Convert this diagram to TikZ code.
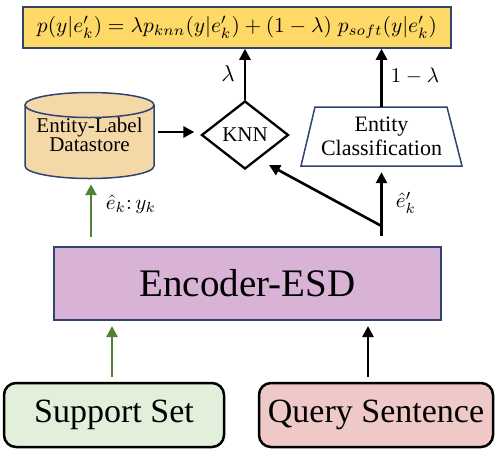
\documentclass[tikz,border=0pt]{standalone}
\usepackage{fontspec}
\setmainfont{Liberation Serif}
\usepackage{graphicx}
\usetikzlibrary{arrows.meta,shapes.geometric,calc}
\definecolor{fyellow}{HTML}{FFD966}
\definecolor{navy}{HTML}{2F4470}
\definecolor{dsfill}{HTML}{F5D8A8}
\definecolor{encfill}{HTML}{D9B3D6}
\definecolor{supfill}{HTML}{E2EFDA}
\definecolor{qfill}{HTML}{EFC8C8}
\definecolor{agreen}{HTML}{548235}
\tikzset{
  arr/.style={line width=2.6pt,-{Triangle[length=11pt,width=11pt]}},
  garr/.style={arr,draw=agreen,-{Triangle[length=11pt,width=11pt,fill=agreen]}},
  inbox/.style={draw=black,line width=2.5pt,rounded corners=12pt,minimum height=64pt,inner sep=0pt,font=\fontsize{34}{38}\selectfont},
  lbl/.style={inner sep=0pt}
}
\begin{document}
\begin{tikzpicture}[x=1pt,y=-1pt]
\useasboundingbox (0,0) rectangle (498,451);
% formula
\node[draw=navy,line width=1.5pt,fill=fyellow,minimum width=428pt,minimum height=41pt,inner sep=0pt] (formula) at (237,27.5)
  {\resizebox{400pt}{!}{$p(y|e'_k) = \lambda p_{knn}(y|e'_k) + (1-\lambda)\; p_{soft}(y|e'_k)$}};
% datastore cylinder
\path[fill=dsfill,draw=navy,line width=1.5pt] (25,105) -- (25,166) arc[start angle=180,end angle=0,x radius=64.5,y radius=12.5] -- (154,105);
\draw[fill=dsfill,draw=navy,line width=1.5pt] (89.5,105) ellipse[x radius=64.5,y radius=12.5];
\node[minimum width=129pt,minimum height=86pt,inner sep=0pt,align=center,font=\fontsize{21}{18}\selectfont] (ds) at (89.5,135)
  {\raisebox{-4pt}{Entity-Label}\\Datastore};
% knn
\node[diamond,draw=black,line width=2.3pt,fill=white,minimum width=87pt,minimum height=68pt,inner sep=0pt,font=\fontsize{21}{24}\selectfont] (knn) at (245,135) {KNN};
% entity classification
\draw[draw=navy,line width=1.5pt,fill=white] (301,166) -- (315,107) -- (447,107) -- (462,166) -- cycle;
\node[minimum width=161pt,minimum height=59pt,inner sep=0pt,align=center,font=\fontsize{22}{24}\selectfont] (trap) at (381.5,136.5)
  {Entity\\Classification};
% encoder
\node[draw=navy,line width=2pt,fill=encfill,minimum width=387pt,minimum height=73pt,inner sep=0pt,font=\fontsize{39}{44}\selectfont] (enc) at (247.5,283.5) {Encoder-ESD};
% inputs
\node[inbox,fill=supfill,minimum width=220pt] (sup) at (114,415) {Support Set};
\node[inbox,fill=qfill,minimum width=234pt] (qry) at (376,415) {Query Sentence};
% arrows
\draw[garr,shorten <=5pt,shorten >=5pt] ([xshift=-2pt]sup.north) -- ([xshift=-2pt]sup.north |- enc.south);
\draw[arr,shorten <=5pt,shorten >=5pt] ([xshift=-8pt]qry.north) -- ([xshift=-8pt]qry.north |- enc.south);
\draw[garr,shorten <=9pt,shorten >=6pt] ([xshift=1.5pt]ds.south |- enc.north) -- ([xshift=1.5pt]ds.south);
\draw[arr,shorten <=4pt,shorten >=6pt] ([yshift=3pt]ds.east) -- ([yshift=3pt]ds.east -| knn.west);
\draw[arr] (knn.north) -- (knn.north |- formula.south);
\draw[arr] (trap.north) -- (trap.north |- formula.south);
\coordinate (base) at (trap.south |- enc.north);
\coordinate (split) at ([yshift=20pt]base);
\coordinate (knntip) at (269,165);
\draw[arr,shorten <=10pt,shorten >=6pt] (base) -- (trap.south);
\draw[arr,line cap=round] (split) -- (knntip);
% labels
\node[lbl] (lam) at (228,74) {\scalebox{2.3}{$\lambda$}};
\node[lbl] (olam) at (415,76) {\scalebox{2.1}{$1-\lambda$}};
\node[lbl] (ek) at (131,204) {\scalebox{2.1}{$\hat{e}_k\colon y_k$}};
\node[lbl] (ekp) at (406,203) {\scalebox{2.1}{$\hat{e}'_k$}};
\end{tikzpicture}
\end{document}
